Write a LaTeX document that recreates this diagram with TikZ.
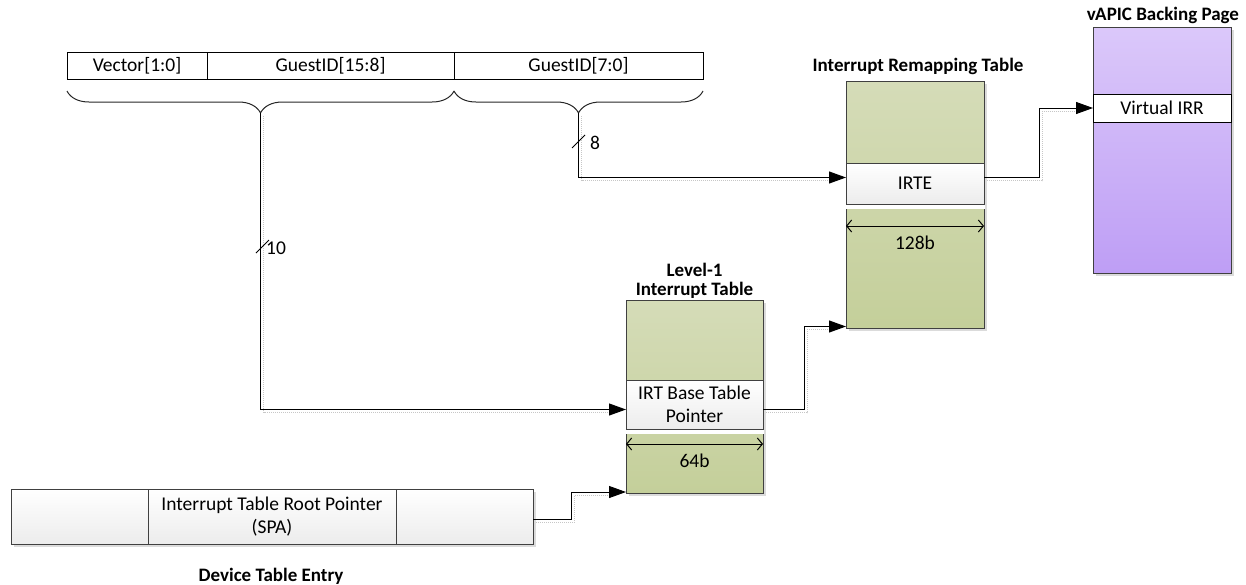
\documentclass[tikz,border=0pt]{standalone}
\usepackage{fontspec}
\setmainfont{Carlito}
\usetikzlibrary{arrows.meta,decorations.pathreplacing,shadows}
\definecolor{gtop}{RGB}{213,220,184}
\definecolor{gbot}{RGB}{196,207,154}
\definecolor{ptop}{RGB}{219,200,250}
\definecolor{pbot}{RGB}{190,158,245}
\definecolor{wbot}{RGB}{236,236,236}
\definecolor{edge}{RGB}{64,64,64}
\tikzset{
 txt/.style={font=\fontsize{19.5}{23}\selectfont},
 ttl/.style={font=\bfseries\fontsize{19}{20}\selectfont, align=center, inner sep=0pt},
 box/.style={draw=edge, line width=1pt, inner sep=0pt, outer sep=0pt, anchor=north west, txt, align=center},
 wcell/.style={box, top color=white, bottom color=wbot},
 plain/.style={box, fill=white, draw=black},
 sh/.style={drop shadow={shadow xshift=3pt, shadow yshift=-3pt, fill=black!14, opacity=1}},
 conn/.style={draw=black, line width=1pt, -{Triangle[length=17pt,width=12pt]}},
 cshadow/.style={draw=black!22, line width=1pt, densely dotted, transform canvas={shift={(3pt,-3pt)}}},
 dim/.style={line width=1pt, {Straight Barb[length=5pt,width=12pt]}-{Straight Barb[length=5pt,width=12pt]}},
 brc/.style={decorate, decoration={brace, mirror, amplitude=22pt}, line width=1pt, draw=black!85},
}
\begin{document}
\begin{tikzpicture}[x=1pt,y=-1pt]
\useasboundingbox (0,0) rectangle (1246,584);

% ---- top field bar
\node[plain, minimum width=140pt, minimum height=27pt] (vec) at (67,52.5) {Vector[1:0]};
\node[plain, minimum width=247pt, minimum height=27pt] (gid1) at (207,52.5) {GuestID[15:8]};
\node[plain, minimum width=249pt, minimum height=27pt] (gid0) at (454,52.5) {GuestID[7:0]};
\draw[brc] (67,91) -- (454,91);
\draw[brc] (454,91) -- (703,91);
\coordinate (t1) at (260.5,113);
\coordinate (t2) at (578.5,113);

% ---- Interrupt Remapping Table
\node[ttl] (irtt) at (918,66) {Interrupt Remapping Table};
\node[box, sh, top color=gtop, bottom color=gbot, minimum width=138pt, minimum height=247pt] (irt) at (846,81) {};
\node[wcell, minimum width=138pt, minimum height=41pt] (irte) at (846,163) {IRTE};
\fill[white] (845,205) rectangle (985,209);
\draw[dim] (irt.west |- 0,226) -- (irt.east |- 0,226);
\node[txt] (irtw) at (915,243) {128b};

% ---- vAPIC Backing Page
\node[ttl] (vapt) at (1163,15) {vAPIC Backing Page};
\node[box, sh, top color=ptop, bottom color=pbot, minimum width=138pt, minimum height=246pt] (vap) at (1093,27) {};
\node[plain, minimum width=138pt, minimum height=28pt] (virr) at (1093,94) {Virtual IRR};

% ---- Level-1 Interrupt Table
\node[ttl] (l1t) at (694.5,281) {Level-1\\[-1pt]Interrupt Table};
\node[box, sh, top color=gtop, bottom color=gbot, minimum width=137pt, minimum height=193pt] (l1) at (626,300) {};
\node[wcell, minimum width=137pt, minimum height=49pt] (irtp) at (626,380) {IRT Base Table\\Pointer};
\fill[white] (625,430) rectangle (764,434);
\draw[dim] (l1.west |- 0,444) -- (l1.east |- 0,444);
\node[txt] (l1w) at (694.5,461) {64b};

% ---- Device Table Entry
\node[wcell, sh, minimum width=137pt, minimum height=55pt] (dte1) at (11,489) {};
\node[wcell, sh, minimum width=248pt, minimum height=55pt] (dte2) at (148,489) {Interrupt Table Root Pointer\\(SPA)};
\node[wcell, sh, minimum width=137pt, minimum height=55pt] (dte3) at (396,489) {};
\node[ttl] (dtet) at (271,576) {Device Table Entry};

% ---- connector shadows
\draw[cshadow] (t1) |- ([yshift=-5pt,xshift=-14pt]irtp.west);
\draw[cshadow] (t2) |- ([yshift=6pt,xshift=-14pt]irte.west);
\draw[cshadow] ([yshift=6pt]irte.east) -- ++(55,0) |- ([xshift=-14pt]virr.west);
\draw[cshadow] ([yshift=-5pt]irtp.east) -- ++(41,0) |- ([yshift=1.5pt,xshift=-14pt]irt.south west);
\draw[cshadow] ([yshift=-3pt]dte3.east) -- ++(38,0) |- ([yshift=1pt,xshift=-14pt]l1.south west);

% ---- connectors
\draw[conn] (t1) |- ([yshift=-5pt]irtp.west);
\draw[conn] (t2) |- ([yshift=6pt]irte.west);
\draw[conn] ([yshift=6pt]irte.east) -- ++(55,0) |- (virr.west);
\draw[conn] ([yshift=-5pt]irtp.east) -- ++(41,0) |- ([yshift=1.5pt]irt.south west);
\draw[conn] ([yshift=-3pt]dte3.east) -- ++(38,0) |- ([yshift=1pt]l1.south west);

% ---- bus width marks
\draw[line width=1pt] (256,253) -- (269,240);
\node[txt, anchor=west, inner sep=0pt] (w10) at (266,248) {10};
\draw[line width=1pt] (572,148) -- (585,135);
\node[txt, anchor=west, inner sep=0pt] (w8) at (590,143) {8};
\end{tikzpicture}
\end{document}
